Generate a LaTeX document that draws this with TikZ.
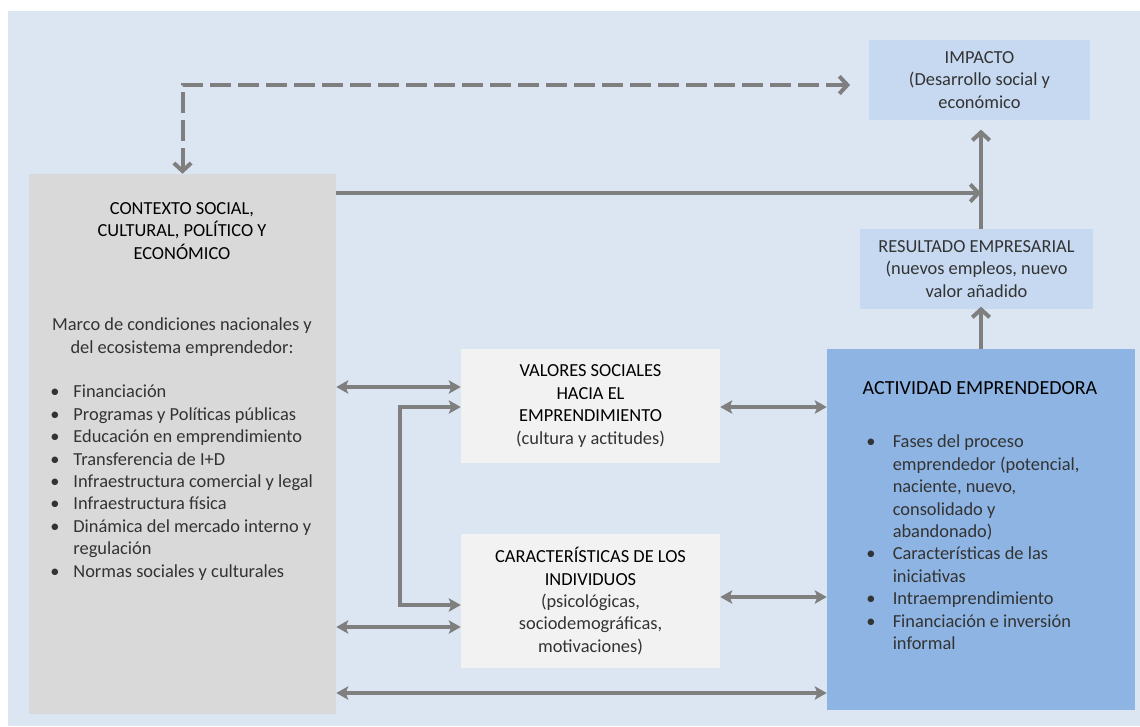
\documentclass[tikz,border=0pt]{standalone}
\usepackage{fontspec}
\setmainfont{Carlito}
\usetikzlibrary{arrows.meta}

\definecolor{fondo}{HTML}{DCE6F2}
\definecolor{gris}{HTML}{D9D9D9}
\definecolor{claro}{HTML}{F2F2F2}
\definecolor{celeste}{HTML}{C6D9F1}
\definecolor{azul}{HTML}{8DB4E2}
\definecolor{flecha}{HTML}{7F7F7F}
\definecolor{texto}{HTML}{333333}

\tikzset{
    caja/.style={rectangle,inner sep=0pt,align=center,text=texto},
    titulo/.style={align=center,inner sep=0pt,text=black},
    dbl/.style={flecha,line width=3pt,{Stealth[length=9pt,width=10pt,inset=2pt]}-{Stealth[length=9pt,width=10pt,inset=2pt]}},
    arr/.style={flecha,line width=3pt,-{Straight Barb[length=6pt,width=13pt,line width=3pt]}},
    dasharr/.style={arr,{Straight Barb[length=6pt,width=13pt,line width=3pt]}-{Straight Barb[length=6pt,width=13pt,line width=3pt]},
        dash pattern=on 15.5pt off 5.5pt}
}

\begin{document}
\begin{tikzpicture}[x=0.75pt,y=-0.75pt,
        font=\fontsize{13.8}{16.8}\selectfont]
    \useasboundingbox (0,0) rectangle (1140,726);
    \fill[fondo] (8,11) rectangle (1140,726);

    \begin{scope}[every node/.style={caja}]
        \node (ctx) [fill=gris,minimum width=230.25pt,minimum height=405pt] at (182.5,444) {};
        \node (imp) [fill=celeste,minimum width=165.75pt,minimum height=60pt] at (979.5,80)
            {IMPACTO\\(Desarrollo social y\\económico};
        \node (res) [fill=celeste,minimum width=174.75pt,minimum height=60pt] at (976.5,269)
            {RESULTADO EMPRESARIAL\\(nuevos empleos, nuevo\\valor añadido};
        \node (act) [fill=azul,minimum width=231pt,minimum height=270.75pt] at (981,529.5) {};
        \node (val) [fill=claro,minimum width=194.25pt,minimum height=85.5pt] at (590.5,406)
            {\textcolor{black}{VALORES SOCIALES}\\\textcolor{black}{HACIA EL}\\
             \textcolor{black}{EMPRENDIMIENTO}\\(cultura y actitudes)};
        \node (car) [fill=claro,minimum width=194.25pt,minimum height=100.5pt] at (590.5,601)
            {\textcolor{black}{CARACTERÍSTICAS DE LOS}\\\textcolor{black}{INDIVIDUOS}\\
             (psicológicas,\\sociodemográficas,\\motivaciones)};
    \end{scope}

    % texto de las cajas grandes
    \node (ctxhead) [titulo] at (182,231) {CONTEXTO SOCIAL,\\CULTURAL, POLÍTICO Y\\ECONÓMICO};
    \node (ctxsub) [caja] at (182,337) {Marco de condiciones nacionales y\\del ecosistema emprendedor:};
    \node (ctxlist) [caja,anchor=north west,align=left] at (50,382) {%
        \begin{tabular}{@{}l@{\hspace{10.5pt}}l@{}}
        \textbullet & Financiación\\
        \textbullet & Programas y Políticas públicas\\
        \textbullet & Educación en emprendimiento\\
        \textbullet & Transferencia de I+D\\
        \textbullet & Infraestructura comercial y legal\\
        \textbullet & Infraestructura física\\
        \textbullet & Dinámica del mercado interno y\\
                    & regulación\\
        \textbullet & Normas sociales y culturales
        \end{tabular}};
    \node (acthead) [titulo,font=\fontsize{15}{18}\selectfont] at (980,388) {ACTIVIDAD EMPRENDEDORA};
    \node (actlist) [caja,anchor=north west,align=left] at (866,432) {%
        \begin{tabular}{@{}l@{\hspace{13pt}}l@{}}
        \textbullet & Fases del proceso\\
                    & emprendedor (potencial,\\
                    & naciente, nuevo,\\
                    & consolidado y\\
                    & abandonado)\\
        \textbullet & Características de las\\
                    & iniciativas\\
        \textbullet & Intraemprendimiento\\
        \textbullet & Financiación e inversión\\
                    & informal
        \end{tabular}};

    \coordinate (mid) at (981,193);

    % flechas
    \draw[dasharr] (ctx.north) |- ([xshift=-14pt,yshift=-3.75pt]imp.west);
    \draw[arr] (ctx.east |- mid) -- (mid);
    \draw[arr,shorten >=7pt] (res.north -| mid) -- (imp.south -| mid);
    \draw[arr,shorten >=-2pt] (act.north -| mid) -- (res.south -| mid);

    \draw[dbl] (ctx.east |- 0,387) -- (val.west |- 0,387);
    \draw[dbl] (val.east |- 0,407) -- (act.west |- 0,407);
    \draw[dbl] (val.west |- 0,407) -- (400,407) -- (400,605) -- (car.west |- 0,605);
    \draw[dbl] (car.east |- 0,597) -- (act.west |- 0,597);
    \draw[dbl] (ctx.east |- 0,627) -- (car.west |- 0,627);
    \draw[dbl] (ctx.east |- 0,693) -- (act.west |- 0,693);
\end{tikzpicture}
\end{document}
